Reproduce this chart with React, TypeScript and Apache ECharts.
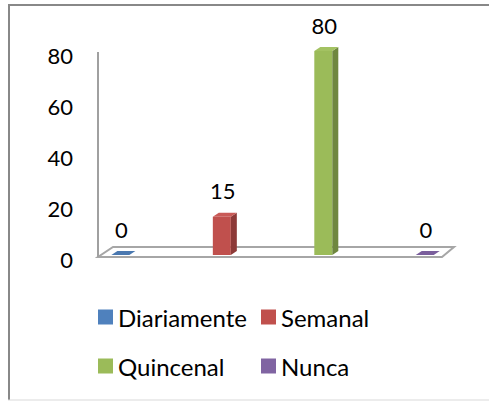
import React, { useEffect, useRef } from "react";
import * as echarts from "echarts";

const categories = ["Diariamente", "Semanal", "Quincenal", "Nunca"];
const values = [0, 15, 80, 0];
const yMin = 0;
const yMax = 80;
const yInterval = 20;
const frontColors = ["#4f81bd", "#c0504d", "#9bbb59", "#8064a2"];
const sideColors = ["#3b6190", "#8d3a38", "#6f873f", "#5d4979"];
const topColors = ["#4a78b0", "#c95a57", "#a3c262", "#7a5e9c"];

const FONT = "Lato, 'Open Sans', sans-serif";

export default function App() {
  const ref = useRef<HTMLDivElement>(null);
  useEffect(() => {
    if (!ref.current) return;
    const chart = echarts.init(ref.current, null, { renderer: "svg" });

    const barSeries = categories.map((name, i) => ({
      name,
      type: "custom",
      color: frontColors[i],
      z: 3,
      data: [[i, values[i]]],
      renderItem: (params: any, api: any) => {
        const xv = api.value(0);
        const yv = api.value(1);
        const p0 = api.coord([xv, 0]);
        const p1 = api.coord([xv, yv]);
        const cx = p0[0] - 2;
        const base = p0[1] - 4;
        const top = p1[1] - 4;
        const hw = 9;
        const dx = 6;
        const dy = 4;
        const children: any[] = [];
        if (base - top > 0) {
          children.push({
            type: "rect",
            shape: { x: cx - hw, y: top, width: hw * 2, height: base - top },
            style: { fill: frontColors[i] },
          });
          children.push({
            type: "polygon",
            shape: {
              points: [
                [cx + hw, top],
                [cx + hw + dx, top - dy],
                [cx + hw + dx, base - dy],
                [cx + hw, base],
              ],
            },
            style: { fill: sideColors[i] },
          });
        }
        children.push({
          type: "polygon",
          shape: {
            points: [
              [cx - hw, top],
              [cx + hw, top],
              [cx + hw + dx, top - dy],
              [cx - hw + dx, top - dy],
            ],
          },
          style: { fill: topColors[i] },
        });
        children.push({
          type: "text",
          x: cx + 1,
          y: top - 26,
          style: {
            text: String(yv),
            fill: "#000",
            font: `22px ${FONT}`,
            align: "center",
            verticalAlign: "middle",
          },
        });
        return { type: "group", children };
      },
    }));

    const floorSeries = {
      name: "floor",
      type: "custom",
      silent: true,
      z: 1,
      data: [[0, 0]],
      renderItem: (params: any, api: any) => {
        const cs = params.coordSys;
        const yb = api.coord([0, yMin])[1] - 2;
        const yt = api.coord([0, yMax])[1] - 3;
        const x0 = cs.x;
        const x1 = cs.x + cs.width;
        return {
          type: "group",
          children: [
            {
              type: "polygon",
              shape: {
                points: [
                  [x0, yb],
                  [x1, yb],
                  [x1 + 12, yb - 10],
                  [x0 + 15, yb - 10],
                ],
              },
              style: { fill: "#fff", stroke: "#a6a6a6", lineWidth: 2 },
            },
            {
              type: "line",
              shape: { x1: x0, y1: yb, x2: x0, y2: yt },
              style: { stroke: "#a0a0a0", lineWidth: 2 },
            },
          ],
        };
      },
    };

    const legendText = { fontSize: 24, fontFamily: FONT, color: "#000", lineHeight: 24 };

    chart.setOption({
      animation: false,
      grid: { left: 98, width: 344, top: 55, height: 204, containLabel: false },
      xAxis: { type: "value", min: -0.24, max: 3.15, show: false },
      yAxis: {
        type: "value",
        min: yMin,
        max: yMax,
        interval: yInterval,
        axisLine: { show: false },
        axisTick: { show: false },
        splitLine: { show: false },
        axisLabel: { fontSize: 22, fontFamily: FONT, color: "#000", margin: 25 },
      },
      legend: [
        {
          orient: "vertical",
          left: 93,
          top: 300,
          itemWidth: 15,
          itemHeight: 15,
          itemGap: 25,
          icon: "rect",
          data: [categories[0], categories[2]],
          textStyle: legendText,
        },
        {
          orient: "vertical",
          left: 256,
          top: 300,
          itemWidth: 15,
          itemHeight: 15,
          itemGap: 25,
          icon: "rect",
          data: [categories[1], categories[3]],
          textStyle: legendText,
        },
      ],
      graphic: [
        {
          type: "line",
          shape: { x1: 8, y1: 5, x2: 489, y2: 5 },
          style: { stroke: "#888888", lineWidth: 2 },
        },
        {
          type: "line",
          shape: { x1: 9, y1: 4, x2: 9, y2: 400 },
          style: { stroke: "#888888", lineWidth: 2 },
        },
        {
          type: "line",
          shape: { x1: 8, y1: 400, x2: 489, y2: 400 },
          style: { stroke: "#d9d9d9", lineWidth: 1 },
        },
      ],
      series: [floorSeries, ...barSeries],
    });
    return () => chart.dispose();
  }, []);
  return (
    <div
      ref={ref}
      style={{ position: "absolute", left: 0, top: 0, width: 489, height: 401 }}
    />
  );
}
